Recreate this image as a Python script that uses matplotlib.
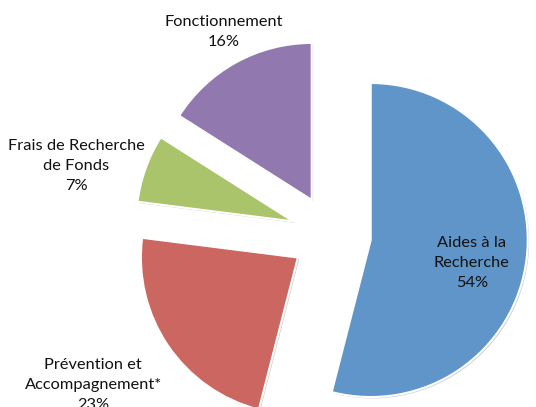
import numpy as np
import matplotlib
matplotlib.use("Agg")
import matplotlib.pyplot as plt
import matplotlib.patheffects as pe

# data
categories = ["Aides à la\nRecherche", "Prévention et\nAccompagnement*",
              "Frais de Recherche\nde Fonds", "Fonctionnement"]
shares = [54, 23, 7, 16]
colors = ["#5F95C8", "#CB6660", "#A9C46A", "#9179AF"]

# where each label sits, as a distance from the centre (in radii)
label_dist = [0.915, 1.79, 1.68, 1.46]
label_shift = [-4.2, -2.0, 4.6, -0.9]   # degrees relative to the slice middle

plt.rcParams['font.family'] = ['Lato', 'DejaVu Sans']

fig = plt.figure(figsize=(5.36, 4.07), dpi=100)
ax = fig.add_axes([0, 0, 1, 1])

scale = 157.0  # pixels per radius
cx, cy = 331.0, 407 - 235.0

wedges, _ = ax.pie(shares, colors=colors, startangle=90, counterclock=False,
                   explode=[0.255] * len(shares), radius=1.0,
                   wedgeprops=dict(edgecolor="white", linewidth=1.5),
                   frame=True)
ax.set_xlim(-cx / scale, (536 - cx) / scale)
ax.set_ylim(-cy / scale, (407 - cy) / scale)
ax.set_axis_off()

for w in wedges:
    w.set_path_effects([pe.SimplePatchShadow(offset=(1, -1), shadow_rgbFace="#999999", alpha=0.5),
                        pe.Normal()])

for w, lab, s, d, sh in zip(wedges, categories, shares, label_dist, label_shift):
    mid = np.deg2rad((w.theta1 + w.theta2) / 2 + sh)
    ax.text(d * np.cos(mid), d * np.sin(mid), f"{lab}\n{s}%",
            ha="center", va="center", fontsize=11.8, linespacing=1.55,
            color="#111111")

fig.savefig("out.png", dpi=100)
